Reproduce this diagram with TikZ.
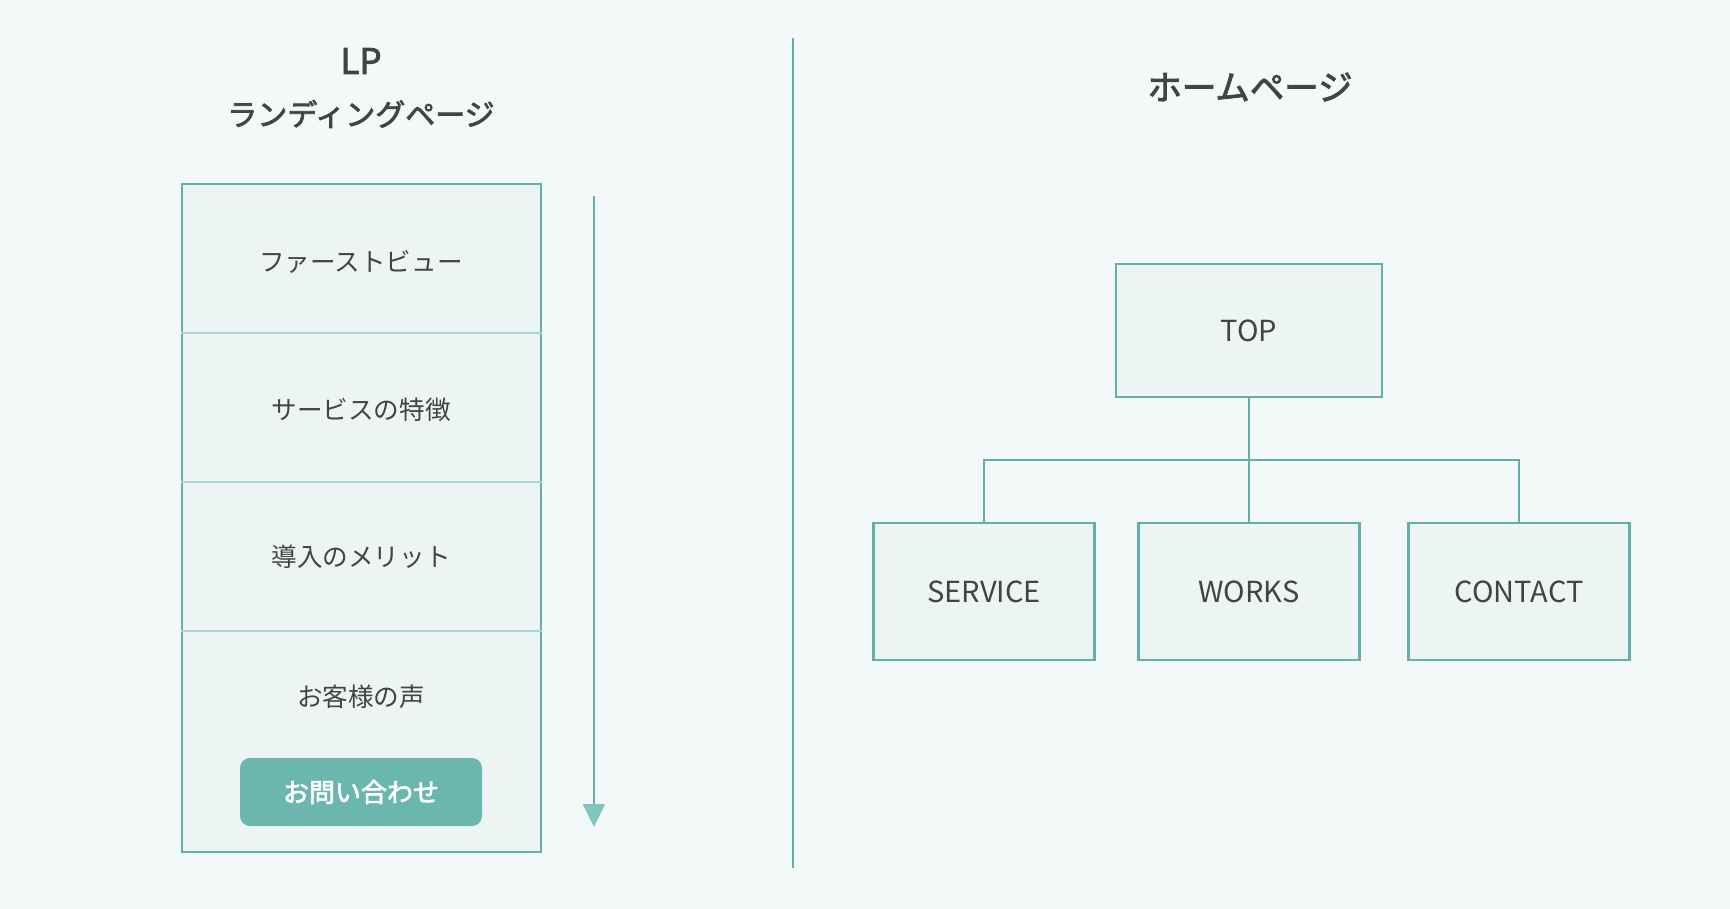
\documentclass[tikz,border=0pt]{standalone}
\usepackage{fontspec}
\setmainfont{Noto Sans CJK JP}
\newfontfamily\medfont{Noto Sans CJK JP}[FakeBold=2.5]
\usetikzlibrary{positioning,arrows.meta}

\definecolor{bgcol}{HTML}{F3F8F8}
\definecolor{boxfill}{HTML}{EDF5F4}
\definecolor{lineteal}{HTML}{62B1A9}
\definecolor{lightteal}{HTML}{A9D6D1}
\definecolor{txtgray}{HTML}{434343}
\definecolor{btnfill}{HTML}{6BB6AF}
\definecolor{headfill}{HTML}{80C6BF}

\tikzset{
  title/.style={text=txtgray,font=\fontsize{35}{40}\selectfont\medfont},
  subtitle/.style={text=txtgray,font=\fontsize{30}{36}\selectfont\medfont},
  frame/.style={draw=lineteal,fill=boxfill,line width=2.2pt,inner sep=0pt},
  sect/.style={text=txtgray,font=\fontsize{25.6}{30}\selectfont},
  divline/.style={draw=lightteal,line width=2pt},
  button/.style={fill=btnfill,rounded corners=10pt,text=white,
    font=\fontsize{26}{30}\selectfont\medfont,minimum width=242pt,minimum height=68pt},
  page/.style={draw=lineteal,fill=boxfill,line width=2.2pt,text=txtgray,
    font=\fontsize{29}{34}\selectfont},
  link/.style={draw=lineteal,line width=2pt},
  sepline/.style={draw=lineteal,line width=2pt},
  scroll/.style={draw=lineteal,line width=2pt,
    -{Triangle[length=23pt,width=22pt,color=headfill,fill=headfill]}}
}

\begin{document}
\begin{tikzpicture}[x=1pt,y=-1pt]

\fill[bgcol] (0,0) rectangle (1730,909);
\useasboundingbox (0,0) rectangle (1730,909);

% left: landing page
\node[title] (lp) at (361,61) {LP};
\node[subtitle] (lpsub) at (361,114) {ランディングページ};
\node[frame,minimum width=359pt,minimum height=668pt] (lpbox) at (361.5,518) {};
\foreach \y in {333,482,631}
  \draw[divline] (lpbox.west |- 0,\y) -- (lpbox.east |- 0,\y);
\foreach \t/\y [count=\i] in {ファーストビュー/262,サービスの特徴/410,導入のメリット/557,お客様の声/697}
  \node[sect] (sec\i) at (361,\y) {\t};
\node[button] (contactbtn) at (361,792) {お問い合わせ};

\coordinate (scrolltop) at (594,196);
\coordinate (scrollend) at (594,827);
\draw[scroll] (scrolltop) -- (scrollend);

% separator
\coordinate (septop) at (793,38);
\coordinate (sepbot) at (793,868);
\draw[sepline] (septop) -- (sepbot);

% right: homepage
\node[subtitle,font=\fontsize{34.5}{40}\selectfont\medfont] (hp) at (1250,87) {ホームページ};
\node[page,minimum width=266pt,minimum height=133pt] (top) at (1249,330.5) {TOP};
\node[page,minimum width=221pt,minimum height=137pt] (service) at (984,591.5) {SERVICE};
\node[page,minimum width=221pt,minimum height=137pt] (works) at (1249,591.5) {WORKS};
\node[page,minimum width=221pt,minimum height=137pt] (contact) at (1519,591.5) {CONTACT};

\coordinate (bus) at (1249,460);
\draw[link] (top.south) -- (works.north);
\draw[link] (service.north) |- (bus) -| (contact.north);

\end{tikzpicture}
\end{document}
